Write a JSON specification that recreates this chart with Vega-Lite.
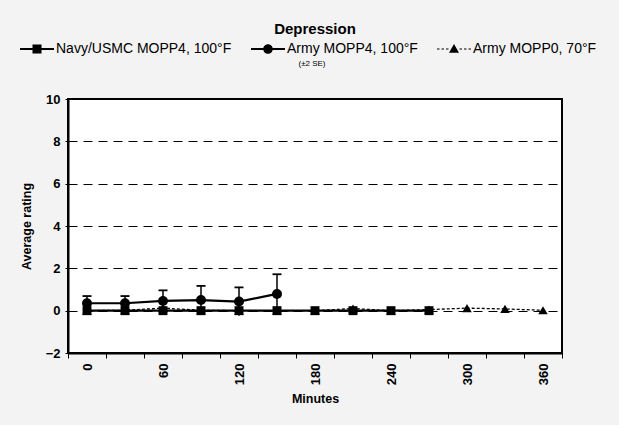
{
  "$schema": "https://vega.github.io/schema/vega-lite/v6.json",
  "width": 494,
  "height": 254,
  "autosize": {"type": "none"},
  "padding": {"left": 68, "top": 99, "right": 57, "bottom": 72},
  "background": "#f3f3f3",
  "config": {
    "view": {"stroke": "black", "strokeWidth": 2, "fill": "white"},
    "font": "Liberation Sans"
  },
  "title": {"text": "Depression", "fontSize": 15, "fontWeight": "bold", "anchor": "middle", "offset": 2, "color": "black"},
  "data": {
    "values": [
      {"series": "Army MOPP0, 70°F", "min": 0, "mean": 0},
      {"series": "Army MOPP0, 70°F", "min": 30, "mean": 0.02},
      {"series": "Army MOPP0, 70°F", "min": 60, "mean": 0.12},
      {"series": "Army MOPP0, 70°F", "min": 90, "mean": 0.02},
      {"series": "Army MOPP0, 70°F", "min": 120, "mean": 0},
      {"series": "Army MOPP0, 70°F", "min": 150, "mean": 0},
      {"series": "Army MOPP0, 70°F", "min": 180, "mean": 0},
      {"series": "Army MOPP0, 70°F", "min": 210, "mean": 0.1},
      {"series": "Army MOPP0, 70°F", "min": 240, "mean": 0},
      {"series": "Army MOPP0, 70°F", "min": 270, "mean": 0.05},
      {"series": "Army MOPP0, 70°F", "min": 300, "mean": 0.12},
      {"series": "Army MOPP0, 70°F", "min": 330, "mean": 0.08},
      {"series": "Army MOPP0, 70°F", "min": 360, "mean": 0.02},
      {"series": "Navy/USMC MOPP4, 100°F", "min": 0, "mean": 0},
      {"series": "Navy/USMC MOPP4, 100°F", "min": 30, "mean": 0},
      {"series": "Navy/USMC MOPP4, 100°F", "min": 60, "mean": 0},
      {"series": "Navy/USMC MOPP4, 100°F", "min": 90, "mean": 0},
      {"series": "Navy/USMC MOPP4, 100°F", "min": 120, "mean": 0},
      {"series": "Navy/USMC MOPP4, 100°F", "min": 150, "mean": 0},
      {"series": "Navy/USMC MOPP4, 100°F", "min": 180, "mean": 0},
      {"series": "Navy/USMC MOPP4, 100°F", "min": 210, "mean": 0},
      {"series": "Navy/USMC MOPP4, 100°F", "min": 240, "mean": 0},
      {"series": "Navy/USMC MOPP4, 100°F", "min": 270, "mean": 0},
      {"series": "Army MOPP4, 100°F", "min": 0, "mean": 0.35, "lo": 0.01, "hi": 0.69},
      {"series": "Army MOPP4, 100°F", "min": 30, "mean": 0.35, "lo": 0.01, "hi": 0.69},
      {"series": "Army MOPP4, 100°F", "min": 60, "mean": 0.46, "lo": -0.04, "hi": 0.96},
      {"series": "Army MOPP4, 100°F", "min": 90, "mean": 0.5, "lo": -0.17, "hi": 1.17},
      {"series": "Army MOPP4, 100°F", "min": 120, "mean": 0.43, "lo": -0.24, "hi": 1.1},
      {"series": "Army MOPP4, 100°F", "min": 150, "mean": 0.79, "lo": -0.14, "hi": 1.72}
    ]
  },
  "encoding": {
    "x": {
      "field": "min", "type": "ordinal", "bandPosition": 0.5,
      "scale": {"type": "band", "domain": [0, 30, 60, 90, 120, 150, 180, 210, 240, 270, 300, 330, 360], "paddingInner": 0, "paddingOuter": 0},
      "axis": {
        "title": "Minutes", "titleFontSize": 12.5, "titleFontWeight": "bold", "titleColor": "black", "titlePadding": 8,
        "labelAngle": -90, "labelFontSize": 13, "labelFontWeight": "bold", "labelColor": "black", "labelPadding": 5,
        "labelExpr": "datum.value % 60 == 0 ? datum.label : ''",
        "tickBand": "extent", "tickSize": 5, "tickColor": "black", "tickWidth": 1,
        "domainColor": "black", "domainWidth": 2, "grid": false
      }
    }
  },
  "layer": [
    {
      "transform": [{"filter": "datum.series == 'Army MOPP0, 70°F'"}],
      "mark": {"type": "line", "color": "black", "strokeWidth": 1.3, "strokeDash": [3, 2]},
      "encoding": {
        "y": {
          "field": "mean", "type": "quantitative",
          "scale": {"domain": [-2, 10], "nice": false, "zero": false},
          "axis": {
            "title": "Average rating", "titleFontSize": 12.5, "titleFontWeight": "bold", "titleColor": "black", "titlePadding": 12,
            "values": [-2, 0, 2, 4, 6, 8, 10], "labelFontSize": 13, "labelFontWeight": "bold", "labelColor": "black", "labelPadding": 5,
            "grid": true, "gridDash": [9, 6], "gridColor": "black", "gridWidth": 1,
            "tickSize": 3, "tickColor": "black", "domainColor": "black", "domainWidth": 2
          }
        }
      }
    },
    {
      "transform": [{"filter": "datum.series != 'Army MOPP0, 70°F'"}],
      "mark": {"type": "line", "color": "black", "strokeWidth": 2.2},
      "encoding": {
        "y": {"field": "mean", "type": "quantitative"},
        "detail": {"field": "series"}
      }
    },
    {
      "transform": [{"filter": "datum.series == 'Army MOPP4, 100°F'"}],
      "mark": {"type": "rule", "color": "black", "strokeWidth": 1.5},
      "encoding": {
        "y": {"field": "lo", "type": "quantitative"},
        "y2": {"field": "hi"}
      }
    },
    {
      "transform": [{"filter": "datum.series == 'Army MOPP4, 100°F'"}],
      "mark": {"type": "tick", "color": "black", "thickness": 1.8, "size": 9, "opacity": 1},
      "encoding": {
        "y": {"field": "hi", "type": "quantitative"}
      }
    },
    {
      "transform": [{"filter": "datum.series == 'Army MOPP0, 70°F'"}],
      "mark": {"type": "point", "filled": true, "color": "black", "opacity": 1, "size": 90, "shape": "triangle-up"},
      "encoding": {"y": {"field": "mean", "type": "quantitative"}}
    },
    {
      "transform": [{"filter": "datum.series == 'Navy/USMC MOPP4, 100°F'"}],
      "mark": {"type": "point", "filled": true, "color": "black", "opacity": 1, "size": 80, "shape": "square"},
      "encoding": {"y": {"field": "mean", "type": "quantitative"}}
    },
    {
      "transform": [{"filter": "datum.series == 'Army MOPP4, 100°F'"}],
      "mark": {"type": "point", "filled": true, "color": "black", "opacity": 1, "size": 100, "shape": "circle"},
      "encoding": {"y": {"field": "mean", "type": "quantitative"}}
    },
    {
      "transform": [{"filter": "false"}],
      "mark": {"type": "point", "filled": true, "color": "black", "opacity": 1},
      "encoding": {
        "y": {"field": "mean", "type": "quantitative"},
        "shape": {
          "field": "series", "type": "nominal",
          "scale": {
            "domain": ["Navy/USMC MOPP4, 100°F", "Army MOPP4, 100°F", "Army MOPP0, 70°F"],
            "range": [
              "M-1.7,-0.1H1.7V0.1H-1.7ZM-0.45,-0.45H0.45V0.45H-0.45Z",
              "M-1.7,-0.1H1.7V0.1H-1.7ZM-0.48,0A0.48,0.48,0,1,1,0.48,0A0.48,0.48,0,1,1,-0.48,0Z",
              "M-1.7,-0.06H-1.45V0.06H-1.7ZM-1.25,-0.06H-1V0.06H-1.25ZM-0.8,-0.06H-0.55V0.06H-0.8ZM0.55,-0.06H0.8V0.06H0.55ZM1,-0.06H1.25V0.06H1ZM1.45,-0.06H1.7V0.06H1.45ZM0,-0.5L0.5,0.38H-0.5Z"
            ]
          },
          "legend": {
            "orient": "none", "legendX": -41, "legendY": -60, "direction": "horizontal",
            "title": "(±2 SE)", "titleOrient": "bottom", "titleAnchor": "middle", "titleFontSize": 8, "titleFontWeight": "normal", "titleColor": "black", "titlePadding": 4,
            "labelFontSize": 14, "labelColor": "black", "labelOffset": 9, "labelLimit": 300,
            "symbolSize": 400, "symbolStrokeWidth": 0, "symbolFillColor": "black", "columnPadding": 19
          }
        }
      }
    }
  ]
}
